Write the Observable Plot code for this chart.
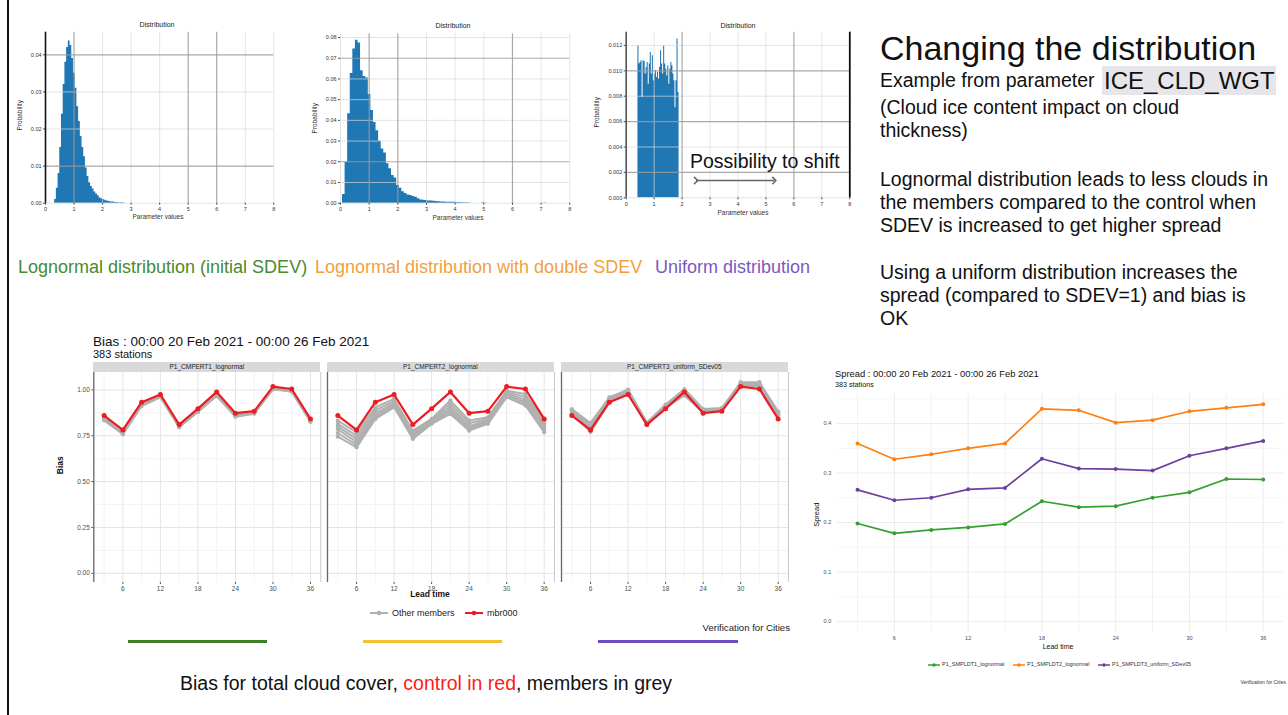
<!DOCTYPE html>
<html><head><meta charset="utf-8">
<script src="https://cdn.jsdelivr.net/npm/d3@7"></script>
<script src="https://cdn.jsdelivr.net/npm/@observablehq/plot@0.6"></script>
<style>
body{margin:0;background:#fff;font-family:"Liberation Sans",Arial,sans-serif;}
#page{position:relative;width:1288px;height:715px;overflow:hidden;background:#fff;}
.abs{position:absolute;white-space:nowrap;line-height:1;}
</style></head><body><div id="page"></div>
<script>
// ---------------- DATA ----------------
// Histogram 1: lognormal, initial SDEV (bin lower edges, probability)
const h1BinW = 0.06;
const h1Lo = [0.32,0.38,0.44,0.50,0.56,0.62,0.68,0.74,0.80,0.86,0.92,0.98,1.04,1.10,1.16,1.22,1.28,1.34,1.40,1.46,1.52,1.58,1.64,1.70,1.76,1.82,1.88,1.94,2.00,2.06,2.12,2.18,2.24,2.30,2.36,2.42,2.48,2.54,2.60,2.66,2.72];
const h1Prob = [0.001,0.004,0.008,0.015,0.024,0.032,0.038,0.042,0.0437,0.0425,0.039,0.035,0.031,0.026,0.022,0.018,0.015,0.0125,0.0095,0.0072,0.0055,0.0045,0.0038,0.003,0.0025,0.002,0.0014,0.0012,0.001,0.0008,0.0006,0.0005,0.0004,0.0003,0.0003,0.0002,0.0002,0.0001,0.0001,0.0001,0.0001];
// Histogram 2: lognormal, double SDEV
const h2BinW = 0.09;
const h2Lo = [0.07,0.16,0.25,0.34,0.43,0.52,0.61,0.70,0.79,0.88,0.97,1.06,1.15,1.24,1.33,1.42,1.51,1.60,1.69,1.78,1.87,1.96,2.05,2.14,2.23,2.32,2.41,2.50,2.59,2.68,2.77,2.86,2.95,3.04,3.13,3.22,3.31,3.40,3.49,3.58,3.67,3.76,3.85,3.94,4.03,4.12,4.21,4.30,4.39,4.48,4.93,5.02,7.09];
const h2Prob = [0.0042,0.0198,0.0432,0.0626,0.0745,0.0787,0.0774,0.0640,0.0612,0.0604,0.0525,0.0448,0.039,0.035,0.030,0.0262,0.0242,0.019,0.0166,0.0134,0.0122,0.0085,0.0072,0.0055,0.0047,0.0040,0.0037,0.0032,0.0029,0.0021,0.0016,0.0014,0.0013,0.0011,0.0010,0.0009,0.0008,0.0007,0.0006,0.0006,0.0005,0.0005,0.0004,0.0004,0.0003,0.0003,0.0002,0.0002,0.0002,0.0001,0.0002,0.0001,0.0002];
// Histogram 3: uniform
const h3BinW = 0.0368;
const h3Lo = [0.4200,0.4568,0.4936,0.5304,0.5672,0.6040,0.6408,0.6776,0.7144,0.7512,0.7880,0.8248,0.8616,0.8984,0.9352,0.9720,1.0088,1.0456,1.0824,1.1192,1.1560,1.1928,1.2296,1.2664,1.3032,1.3400,1.3768,1.4136,1.4504,1.4872,1.5240,1.5608,1.5976,1.6344,1.6712,1.7080,1.7448,1.7816,1.8184,1.8552];
const h3Prob = [0.01197,0.01053,0.01066,0.01079,0.00789,0.01079,0.01074,0.00974,0.01026,0.01066,0.00895,0.01053,0.01145,0.00974,0.01118,0.00921,0.00974,0.01000,0.00947,0.00987,0.00934,0.01026,0.01158,0.01053,0.00974,0.01197,0.01053,0.01013,0.00960,0.01040,0.00895,0.01013,0.01066,0.01040,0.00974,0.00921,0.00710,0.00921,0.01250,0.00829];
const shiftArrow = [{x1: 2.5, x2: 5.3, y: 0.00136}];

// Bias (total cloud cover)
const leadTimes = [3,6,9,12,15,18,21,24,27,30,33,36];
const biasControl = [0.860,0.782,0.933,0.975,0.811,0.898,0.989,0.873,0.884,1.018,1.005,0.842];
const biasMembersP1 = [
  [0.850,0.770,0.925,0.970,0.805,0.890,0.980,0.866,0.878,1.012,1.000,0.835],
  [0.842,0.765,0.920,0.965,0.800,0.885,0.975,0.860,0.874,1.008,0.996,0.830],
  [0.838,0.760,0.915,0.962,0.798,0.882,0.970,0.856,0.872,1.005,0.993,0.828],
  [0.834,0.758,0.912,0.960,0.796,0.880,0.967,0.854,0.870,1.003,0.990,0.826]
];
const biasMembersP2 = [
  [0.833,0.769,0.905,0.951,0.778,0.842,0.942,0.833,0.851,0.996,0.978,0.833],
  [0.815,0.750,0.888,0.940,0.768,0.836,0.925,0.818,0.842,0.988,0.962,0.818],
  [0.800,0.733,0.872,0.930,0.757,0.830,0.908,0.802,0.835,0.980,0.947,0.805],
  [0.785,0.716,0.860,0.920,0.747,0.825,0.893,0.792,0.828,0.973,0.935,0.790],
  [0.765,0.700,0.850,0.912,0.740,0.819,0.880,0.783,0.821,0.966,0.924,0.778],
  [0.745,0.687,0.842,0.905,0.733,0.815,0.869,0.778,0.815,0.960,0.915,0.769]
];
const biasMembersP3 = [
  [0.895,0.820,0.960,1.002,0.822,0.920,1.005,0.896,0.902,1.042,1.042,0.882],
  [0.888,0.808,0.952,0.998,0.818,0.915,0.995,0.890,0.898,1.036,1.036,0.876],
  [0.880,0.795,0.945,0.994,0.815,0.910,0.985,0.885,0.895,1.030,1.030,0.870],
  [0.872,0.780,0.938,0.990,0.812,0.906,0.975,0.880,0.892,1.025,1.025,0.865],
  [0.868,0.770,0.932,0.988,0.810,0.903,0.970,0.878,0.890,1.022,1.020,0.862]
];
const panelLabels = ["P1_CMPERT1_lognormal","P1_CMPERT2_lognormal","P1_CMPERT3_uniform_SDev05"];
const biasYTicks = [0, 0.25, 0.5, 0.75, 1.0];
const biasYMinor = [0.125, 0.375, 0.625, 0.875];
const leadTicks = [6, 12, 18, 24, 30, 36];
const leadMinor = [3, 9, 15, 21, 27, 33];

// Spread
const spreadLabels = ["P1_SMPLDT1_lognormal","P1_SMPLDT2_lognormal","P1_SMPLDT3_uniform_SDev05"];
const spreadLog1 = [0.198,0.178,0.185,0.190,0.197,0.243,0.231,0.233,0.250,0.261,0.288,0.287];
const spreadLog2 = [0.360,0.328,0.338,0.350,0.360,0.430,0.427,0.402,0.407,0.425,0.432,0.439];
const spreadUnif = [0.266,0.245,0.250,0.267,0.270,0.329,0.309,0.308,0.305,0.335,0.350,0.365];
const spreadColors = ["#35a02f","#ff8012","#6d3f9e"];
const spreadYTicks = [0, 0.1, 0.2, 0.3, 0.4];
const spreadYMinor = [0.05, 0.15, 0.25, 0.35, 0.45];

// ---------------- HELPERS ----------------
const FONT = "'Liberation Sans', Arial, sans-serif";
const page = document.getElementById("page");
function addText(html, css) {
  const d = document.createElement("div");
  d.className = "abs";
  d.innerHTML = html;
  Object.assign(d.style, css);
  page.appendChild(d);
  return d;
}
function addSvg(svg, left, top) {
  const d = document.createElement("div");
  d.className = "abs";
  d.style.left = left + "px";
  d.style.top = top + "px";
  d.appendChild(svg);
  page.appendChild(d);
}
function tl(html, left, cy, size, extra = {}) {
  return addText(html, Object.assign({left: left + "px", top: (cy - size * 0.5) + "px", fontSize: size + "px"}, extra));
}
function tc(html, cx, cy, size, extra = {}) {
  return addText(html, Object.assign({left: cx + "px", top: (cy - size * 0.5) + "px", fontSize: size + "px", transform: "translateX(-50%)"}, extra));
}
function tr(html, cx, cy, size, extra = {}) {
  return addText(html, Object.assign({left: cx + "px", top: (cy - size * 0.5) + "px", fontSize: size + "px", transform: "translate(-50%,0) rotate(-90deg)"}, extra));
}

// ---------------- HISTOGRAMS ----------------
// build step outline points (one polyline per contiguous run of bins)
function stepPoints(lo, prob, binW) {
  const pts = [];
  let seg = 0;
  lo.forEach((x, i) => {
    if (i > 0 && x - (lo[i - 1] + binW) > 1e-6) {
      pts.push({x: lo[i - 1] + binW, p: prob[i - 1], seg});
      seg++;
    }
    pts.push({x, p: prob[i], seg});
  });
  pts.push({x: lo[lo.length - 1] + binW, p: prob[prob.length - 1], seg});
  return pts;
}
function histogram(o) {
  const data = stepPoints(o.lo, o.prob, o.binW);
  const xTicks = [0,1,2,3,4,5,6,7,8];
  const lightX = xTicks.filter(t => !o.darkX.includes(t));
  const lightY = o.yTicks.filter(t => !o.darkY.includes(t));
  const marks = [
    Plot.areaY(data, {x: "x", y1: 0, y2: "p", z: "seg", curve: "step-after", fill: "#1f77b4"}),
    Plot.ruleX(lightX, {stroke: "#d8d8d8", strokeWidth: 1, strokeOpacity: 0.7}),
    Plot.ruleY(lightY, {stroke: "#d8d8d8", strokeWidth: 1, strokeOpacity: 0.7}),
    Plot.ruleX(o.darkX, {stroke: "#9a9a9a", strokeWidth: 1.2, strokeOpacity: 0.85}),
    Plot.ruleY(o.darkY, {stroke: "#9a9a9a", strokeWidth: 1.2, strokeOpacity: 0.85}),
    Plot.axisX({ticks: xTicks, tickSize: 2, tickPadding: 2, label: null, stroke: "#444"}),
    Plot.axisY({ticks: o.yTicks, tickSize: 2, tickPadding: 2, tickFormat: o.fmt, label: null, stroke: "#444"})
  ];
  if (o.spineLeft) marks.push(Plot.ruleX([0], {stroke: o.spineLeft, strokeWidth: 1.6}));
  if (o.spineRight) marks.push(Plot.ruleX([8], {stroke: o.spineRight, strokeWidth: 1.8}));
  if (o.arrow) marks.push(Plot.link(o.arrow, {x1: "x1", x2: "x2", y1: "y", y2: "y", stroke: "#666", strokeWidth: 1.6, markerStart: "arrow", markerEnd: "arrow"}));
  return Plot.plot({
    width: o.ml + o.pw + o.mr, height: o.mt + o.ph + o.mb,
    marginLeft: o.ml, marginRight: o.mr, marginTop: o.mt, marginBottom: o.mb,
    x: {domain: [0, 8]}, y: {domain: [0, o.yMax]},
    style: {background: "transparent", fontFamily: FONT, fontSize: "5.5px", color: "#333", overflow: "visible"},
    marks
  });
}

addSvg(histogram({lo: h1Lo, prob: h1Prob, binW: h1BinW, ml: 45, mr: 8, mt: 16.7, pw: 228.3, ph: 171, mb: 20,
  yMax: 0.0461, yTicks: [0,0.01,0.02,0.03,0.04], fmt: ".2f", darkX: [1,5,6], darkY: [0.01,0.04], spineLeft: "#111"}), 0, 15);
addSvg(histogram({lo: h2Lo, prob: h2Prob, binW: h2BinW, ml: 45, mr: 8, mt: 18.3, pw: 229.3, ph: 169.4, mb: 20,
  yMax: 0.0818, yTicks: [0,0.01,0.02,0.03,0.04,0.05,0.06,0.07,0.08], fmt: ".2f", darkX: [1,2,6], darkY: [0.02,0.07]}), 295, 15);
addSvg(histogram({lo: h3Lo, prob: h3Prob, binW: h3BinW, ml: 45.7, mr: 8, mt: 16.7, pw: 223.6, ph: 165.6, mb: 20,
  yMax: 0.01304, yTicks: [0,0.002,0.004,0.006,0.008,0.010,0.012], fmt: ".3f", darkX: [2,6], darkY: [0.002,0.006,0.010],
  spineLeft: "#555", spineRight: "#111", arrow: shiftArrow}), 580, 15);

tc("Distribution", 157, 24, 7, {color: "#222"});
tc("Distribution", 453, 25, 7, {color: "#222"});
tc("Distribution", 738, 25, 7, {color: "#222"});
tc("Parameter values", 158, 217, 6.5, {color: "#333"});
tc("Parameter values", 458, 218, 6.5, {color: "#333"});
tc("Parameter values", 743, 213, 6.5, {color: "#333"});
tr("Probability", 19.5, 115, 6.5, {color: "#333"});
tr("Probability", 315, 118, 6.5, {color: "#333"});
tr("Probability", 597, 112, 6.5, {color: "#333"});
tl("Possibility to shift", 690, 162, 19.5, {color: "#111"});

tl("Lognormal distribution (initial SDEV)", 18, 267, 18, {color: "#4a8a30"});
tl("Lognormal distribution with double SDEV", 315, 267, 18, {color: "#f0a040"});
tl("Uniform distribution", 655, 267, 18, {color: "#7a58c0"});

// ---------------- RIGHT-HAND TEXT ----------------
tl("Changing the distribution", 880, 48, 34, {color: "#111"});
tl("Example from parameter", 880, 81, 19.5, {color: "#111"});
tl("ICE_CLD_WGT", 1102, 81, 24, {color: "#111", background: "#e6e6ea", padding: "3px 1px 2px 2px", top: (81 - 12 - 3) + "px"});
tl("(Cloud ice content impact on cloud", 880, 108, 19.5, {color: "#111"});
tl("thickness)", 880, 131, 19.5, {color: "#111"});
tl("Lognormal distribution leads to less clouds in", 880, 180, 19.5, {color: "#111"});
tl("the members compared to the control when", 880, 203, 19.5, {color: "#111"});
tl("SDEV is increased to get higher spread", 880, 226, 19.5, {color: "#111"});
tl("Using a uniform distribution increases the", 880, 273, 19.5, {color: "#111"});
tl("spread (compared to SDEV=1) and bias is", 880, 296, 19.5, {color: "#111"});
tl("OK", 880, 319, 19.5, {color: "#111"});

// ---------------- BIAS PANELS ----------------
const panelLefts = [93.3, 326.8, 560.8];
const panelW = 227;
function biasPanel(members, idx) {
  const showY = idx === 0;
  const ml = showY ? 43.3 : 4, mr = 2, mt = 1, ph = 210, mb = 22;
  const mData = members.flatMap((row, m) => row.map((v, i) => ({lead: leadTimes[i], v, m})));
  const cData = biasControl.map((v, i) => ({lead: leadTimes[i], v}));
  const marks = [
    Plot.ruleY(biasYMinor, {stroke: "#f3f3f3"}),
    Plot.ruleX(leadMinor, {stroke: "#f3f3f3"}),
    Plot.ruleY(biasYTicks, {stroke: "#e4e4e4"}),
    Plot.ruleX(leadTicks, {stroke: "#e4e4e4"}),
    Plot.ruleX([1.35], {stroke: "#666", strokeWidth: 1.3}),
    Plot.ruleX([37.65], {stroke: "#c8c8c8", strokeWidth: 1}),
    Plot.line(mData, {x: "lead", y: "v", z: "m", stroke: "#b0b0b0", strokeWidth: 2}),
    Plot.dot(mData, {x: "lead", y: "v", r: 2.1, fill: "#b0b0b0"}),
    Plot.line(cData, {x: "lead", y: "v", stroke: "#ec1c24", strokeWidth: 2.2}),
    Plot.dot(cData, {x: "lead", y: "v", r: 2.5, fill: "#ec1c24"}),
    Plot.axisX({ticks: leadTicks, tickSize: 2, tickPadding: 1.5, label: null, stroke: "#555"})
  ];
  if (showY) marks.push(Plot.axisY({ticks: biasYTicks, tickSize: 2, tickPadding: 2, tickFormat: ".2f", label: null, stroke: "#555"}));
  const svg = Plot.plot({
    width: ml + panelW + mr, height: mt + ph + mb,
    marginLeft: ml, marginRight: mr, marginTop: mt, marginBottom: mb,
    x: {domain: [1.35, 37.65]}, y: {domain: [-0.05, 1.095], axis: null},
    style: {background: "transparent", fontFamily: FONT, fontSize: "6.5px", color: "#4d4d4d", overflow: "visible"},
    marks
  });
  addSvg(svg, panelLefts[idx] - ml, 371.7 - mt);
  addText(panelLabels[idx], {left: panelLefts[idx] + "px", top: "361.7px", width: panelW + "px", height: "10px",
    lineHeight: "10px", background: "#d9d9d9", fontSize: "6.5px", textAlign: "center", color: "#222"});
}
biasPanel(biasMembersP1, 0);
biasPanel(biasMembersP2, 1);
biasPanel(biasMembersP3, 2);

tl("Bias : 00:00 20 Feb 2021 - 00:00 26 Feb 2021", 93, 342, 13.5, {color: "#111"});
tl("383 stations", 93, 354, 11, {color: "#111"});
tr("<b>Bias</b>", 60, 465, 8.5, {color: "#111"});
tc("<b>Lead time</b>", 430, 594, 8.5, {color: "#111"});

function swatch(color, w) {
  return `<svg width="${w}" height="8" style="vertical-align:middle"><line x1="0" y1="4" x2="${w}" y2="4" stroke="${color}" stroke-width="2"/><circle cx="${w/2}" cy="4" r="2.3" fill="${color}"/></svg>`;
}
tl(swatch("#b0b0b0", 18), 370, 613, 8);
tl("Other members", 392, 613, 9, {color: "#222"});
tl(swatch("#ec1c24", 18), 465, 613, 8);
tl("mbr000", 487, 613, 9, {color: "#222"});
addText("Verification for Cities", {left: "790px", top: (628 - 4.8) + "px", fontSize: "9.6px", transform: "translateX(-100%)", color: "#222"});

addText("", {left: "128px", top: "640px", width: "139px", height: "3px", background: "#3d7d24"});
addText("", {left: "363px", top: "640px", width: "139px", height: "3px", background: "#f3c033"});
addText("", {left: "598px", top: "640px", width: "140px", height: "3px", background: "#6e4cbf"});

tl('Bias for total cloud cover, <span style="color:#ff1a1a">control in red</span>, members in grey', 180, 684, 19.5, {color: "#111"});

// ---------------- SPREAD ----------------
(function () {
  const sData = [spreadLog1, spreadLog2, spreadUnif].flatMap((arr, k) => arr.map((v, i) => ({lead: leadTimes[i], v, s: spreadLabels[k]})));
  const ml = 46.7, mr = 5, mt = 8, ph = 238.7, mb = 25, pw = 446.3;
  const svg = Plot.plot({
    width: ml + pw + mr, height: mt + ph + mb,
    marginLeft: ml, marginRight: mr, marginTop: mt, marginBottom: mb,
    x: {domain: [1.35, 37.65]}, y: {domain: [-0.022, 0.461]},
    color: {domain: spreadLabels, range: spreadColors},
    style: {background: "transparent", fontFamily: FONT, fontSize: "5.5px", color: "#4d4d4d", overflow: "visible"},
    marks: [
      Plot.ruleY(spreadYMinor, {stroke: "#f6f6f6"}),
      Plot.ruleX(leadMinor, {stroke: "#f2f2f2"}),
      Plot.ruleY(spreadYTicks, {stroke: "#ececec"}),
      Plot.ruleX(leadTicks, {stroke: "#ececec"}),
      Plot.line(sData, {x: "lead", y: "v", z: "s", stroke: "s", strokeWidth: 1.7}),
      Plot.dot(sData, {x: "lead", y: "v", fill: "s", r: 2}),
      Plot.axisX({ticks: leadTicks, tickSize: 0, tickPadding: 4, label: null}),
      Plot.axisY({ticks: spreadYTicks, tickSize: 0, tickPadding: 6, tickFormat: ".1f", label: null})
    ]
  });
  addSvg(svg, 836.7 - ml, 393 - mt);
})();
tl("Spread : 00:00 20 Feb 2021 - 00:00 26 Feb 2021", 835, 374, 9.4, {color: "#111"});
tl("383 stations", 835, 385, 7.2, {color: "#111"});
tr("Spread", 817, 515, 7.5, {color: "#111"});
tc("Lead time", 1058, 646, 7, {color: "#111"});
function swatch2(color) {
  return `<svg width="12" height="6" style="vertical-align:middle"><line x1="0" y1="3" x2="12" y2="3" stroke="${color}" stroke-width="1.5"/><circle cx="6" cy="3" r="1.8" fill="${color}"/></svg>`;
}
tl(swatch2(spreadColors[0]), 928, 665, 6);
tl(spreadLabels[0], 942, 665, 5.5, {color: "#333"});
tl(swatch2(spreadColors[1]), 1013, 665, 6);
tl(spreadLabels[1], 1027, 665, 5.5, {color: "#333"});
tl(swatch2(spreadColors[2]), 1098, 665, 6);
tl(spreadLabels[2], 1112, 665, 5.5, {color: "#333"});
addText("Verification for Cities", {left: "1286px", top: (682 - 2.5) + "px", fontSize: "5px", transform: "translateX(-100%)", color: "#333"});

addText("", {left: "7px", top: "0px", width: "1.5px", height: "715px", background: "#111"});
</script></body></html>
